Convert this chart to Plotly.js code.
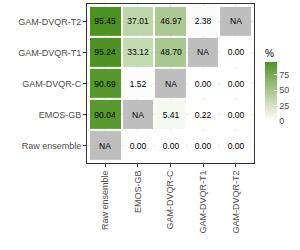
<!DOCTYPE html>
<html><head><meta charset="utf-8">
<script src="https://cdn.plot.ly/plotly-3.0.1.min.js"></script>
<style>html,body{margin:0;padding:0;background:#fff}#chart{width:300px;height:250px}</style>
</head><body><div id="chart"></div>
<script>
// Categories (columns = x, rows = y from bottom to top)
const xCategories = ["Raw ensemble", "EMOS-GB", "GAM-DVQR-C", "GAM-DVQR-T1", "GAM-DVQR-T2"];
const yCategories = ["Raw ensemble", "EMOS-GB", "GAM-DVQR-C", "GAM-DVQR-T1", "GAM-DVQR-T2"];
// Values per row (null = NA)
const rowRaw  = [null, 0.00, 0.00, 0.00, 0.00];
const rowEMOS = [90.04, null, 5.41, 0.22, 0.00];
const rowC    = [90.69, 1.52, null, 0.00, 0.00];
const rowT1   = [95.24, 33.12, 48.70, null, 0.00];
const rowT2   = [95.45, 37.01, 46.97, 2.38, null];
const colorbarTicks = [0, 25, 50, 75];

const z = [rowRaw, rowEMOS, rowC, rowT1, rowT2];
const zNA = z.map(r => r.map(v => v === null ? 1 : null));
const txt = z.map(r => r.map(v => v === null ? "" : v.toFixed(2)));
const txtNA = z.map(r => r.map(v => v === null ? "NA" : ""));
const flat = z.flat().filter(v => v !== null);
const zmax = Math.max(...flat);

const font = "Liberation Sans, Arial, sans-serif";
const traces = [
  {
    type: "heatmap", x: xCategories, y: yCategories, z: z,
    zmin: 0, zmax: zmax,
    colorscale: [[0, "#FFFFFF"], [0.25, "#D5E5C6"], [0.5, "#AAC991"], [0.75, "#7EAF5C"], [1, "#4D9221"]],
    xgap: 2, ygap: 2,
    text: txt, texttemplate: "%{text}",
    textfont: {family: font, size: 8.5, color: "#000000"},
    colorbar: {
      title: {text: "%", side: "top", font: {family: font, size: 10, color: "#000"}},
      x: 1.066, xanchor: "left", xref: "paper",
      y: 0.5, yanchor: "middle", len: 0.47, lenmode: "fraction",
      thickness: 12, outlinewidth: 0, xpad: 0, ypad: 0,
      tickvals: colorbarTicks, ticks: "inside", ticklen: 3, tickcolor: "#FFFFFF",
      tickfont: {family: font, size: 9, color: "#4D4D4D"}
    },
    hoverinfo: "skip"
  },
  {
    type: "heatmap", x: xCategories, y: yCategories, z: zNA,
    zmin: 0, zmax: 1,
    colorscale: [[0, "#BEBEBE"], [1, "#BEBEBE"]],
    showscale: false, xgap: 2, ygap: 2,
    text: txtNA, texttemplate: "%{text}",
    textfont: {family: font, size: 8.5, color: "#000000"},
    hoverinfo: "skip"
  }
];

const axisCommon = {
  type: "category",
  showline: true, mirror: true, linecolor: "#333333", linewidth: 1,
  ticks: "outside", ticklen: 3, tickcolor: "#333333", tickwidth: 1,
  showgrid: true, gridcolor: "#EBEBEB", gridwidth: 1,
  zeroline: false,
  tickfont: {family: font, size: 9, color: "#4D4D4D"}
};

const layout = {
  width: 300, height: 250,
  margin: {l: 87, r: 46, t: 4, b: 87},
  paper_bgcolor: "#FFFFFF", plot_bgcolor: "#FFFFFF",
  xaxis: Object.assign({}, axisCommon, {range: [-0.56, 4.56], tickangle: -90}),
  yaxis: Object.assign({}, axisCommon, {range: [-0.56, 4.56]}),
  showlegend: false
};

Plotly.newPlot("chart", traces, layout, {displayModeBar: false, staticPlot: true});
</script>
</body></html>
